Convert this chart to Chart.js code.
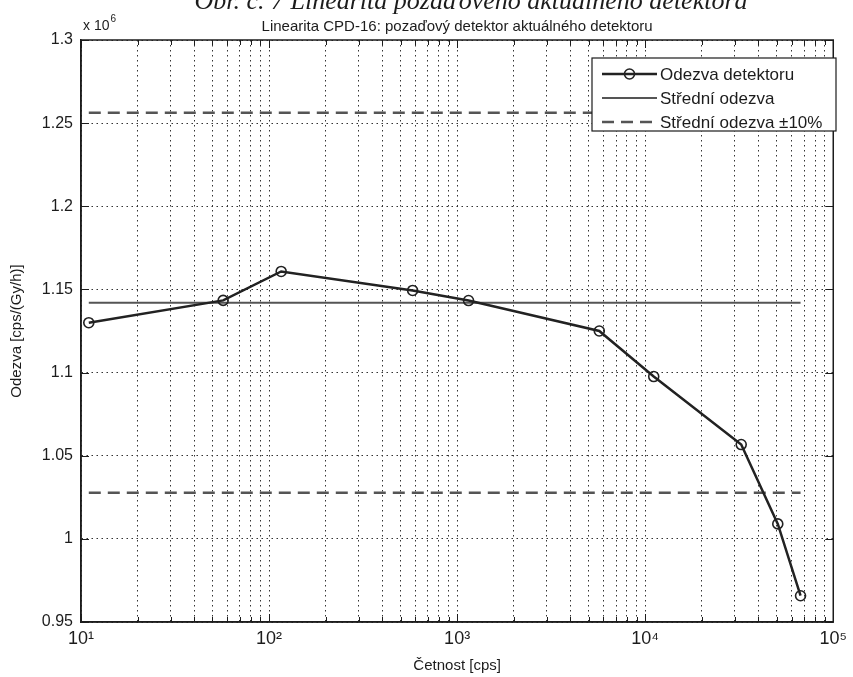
<!DOCTYPE html>
<html>
<head>
<meta charset="utf-8">
<script src="https://cdn.jsdelivr.net/npm/chart.js@4.4.1/dist/chart.umd.min.js"></script>
<style>
html, body { margin: 0; padding: 0; background: #fff; }
#wrap { position: relative; width: 853px; height: 677px; }
</style>
</head>
<body>
<div id="wrap"><canvas id="linearity"></canvas></div>
<script>
// count rate [cps] and detector response [cps/(Gy/h)]
const countRate = [11, 57, 116, 580, 1150, 5700, 11100, 32400, 50700, 67000];
const response = [1.130e6, 1.1434e6, 1.1608e6, 1.1494e6, 1.1433e6, 1.125e6, 1.0976e6, 1.0567e6, 1.009e6, 0.9658e6];
const meanResponse = 1.142e6;
const bandUpper = 1.2562e6;
const bandLower = 1.0278e6;

const legendLabels = ['Odezva detektoru', 'Střední odezva', 'Střední odezva ±10%'];
const xDecades = [10, 100, 1000, 10000, 100000];
const minorSteps = [2, 3, 4, 5, 6, 7, 8, 9];
const superscripts = ['⁰', '¹', '²', '³', '⁴', '⁵', '⁶', '⁷', '⁸', '⁹'];

const FONT = "'Liberation Sans', Arial, sans-serif";
const INK = '#1c1c1c';

const xSpan = [countRate[0], countRate[countRate.length - 1]];
const flatLine = (y) => xSpan.map(x => ({x: x, y: y}));

// log-grid ticks: every decade plus 2..9 in between
function logTicks() {
    const ticks = [];
    xDecades.forEach((d, i) => {
        ticks.push({value: d, major: true});
        if (i < xDecades.length - 1) {
            minorSteps.forEach(m => ticks.push({value: d * m, major: false}));
        }
    });
    return ticks;
}

// box round the axes and inward ticks, like matlab
const frameAndTicks = {
    id: 'frameAndTicks',
    afterDatasetsDraw(chart) {
        const {ctx, chartArea: a, scales} = chart;
        ctx.save();
        ctx.strokeStyle = INK;
        ctx.lineWidth = 1;
        scales.x.ticks.forEach(t => {
            const px = Math.round(scales.x.getPixelForValue(t.value)) + 0.5;
            const len = t.major ? 8 : 5;
            ctx.beginPath();
            ctx.moveTo(px, a.bottom); ctx.lineTo(px, a.bottom - len);
            ctx.moveTo(px, a.top); ctx.lineTo(px, a.top + len);
            ctx.stroke();
        });
        scales.y.ticks.forEach(t => {
            const py = Math.round(scales.y.getPixelForValue(t.value)) + 0.5;
            ctx.beginPath();
            ctx.moveTo(a.left, py); ctx.lineTo(a.left + 8, py);
            ctx.moveTo(a.right, py); ctx.lineTo(a.right - 8, py);
            ctx.stroke();
        });
        ctx.lineWidth = 1.5;
        ctx.strokeRect(a.left, a.top, a.right - a.left, a.bottom - a.top);

        // exponent above the y axis
        ctx.fillStyle = INK;
        ctx.textBaseline = 'alphabetic';
        ctx.font = '14px ' + FONT;
        ctx.fillText('x 10', a.left + 2, a.top - 10);
        const w = ctx.measureText('x 10').width;
        ctx.font = '10px ' + FONT;
        ctx.fillText('6', a.left + 3 + w, a.top - 18);

        // page caption, cut by the top of the scan
        ctx.font = "italic 26px 'Liberation Serif', 'Times New Roman', serif";
        ctx.textAlign = 'center';
        ctx.fillText('Obr. č. 7 Linearita pozaďového aktuálného detektora', 471, 9);
        ctx.restore();
    }
};

// legend box in the upper right corner
const boxLegend = {
    id: 'boxLegend',
    afterDraw(chart, args, opts) {
        const ctx = chart.ctx;
        const items = chart.data.datasets.filter(d => d.inLegend !== false);
        ctx.save();
        ctx.fillStyle = '#fff';
        ctx.fillRect(opts.left, opts.top, opts.width, opts.height);
        ctx.strokeStyle = INK;
        ctx.lineWidth = 1.2;
        ctx.strokeRect(opts.left, opts.top, opts.width, opts.height);
        ctx.font = '17px ' + FONT;
        ctx.textBaseline = 'middle';
        items.forEach((d, i) => {
            const y = opts.top + opts.firstRow + i * opts.rowHeight;
            const x0 = opts.left + 10, x1 = opts.left + 65;
            ctx.strokeStyle = d.borderColor;
            ctx.lineWidth = d.borderWidth;
            ctx.setLineDash(d.borderDash || []);
            ctx.beginPath(); ctx.moveTo(x0, y); ctx.lineTo(x1, y); ctx.stroke();
            ctx.setLineDash([]);
            if (d.pointRadius > 0) {
                ctx.lineWidth = d.pointBorderWidth;
                ctx.strokeStyle = d.pointBorderColor;
                ctx.beginPath(); ctx.arc((x0 + x1) / 2, y, d.pointRadius, 0, Math.PI * 2); ctx.stroke();
            }
            ctx.fillStyle = INK;
            ctx.fillText(d.label, opts.left + 68, y + 1);
        });
        ctx.restore();
    }
};

const ctx = document.getElementById('linearity').getContext('2d');
new Chart(ctx, {
    type: 'line',
    data: {
        datasets: [{
            label: legendLabels[0],
            data: countRate.map((x, i) => ({x: x, y: response[i]})),
            borderColor: '#222',
            borderWidth: 2.5,
            pointRadius: 5,
            pointBorderWidth: 1.6,
            pointBorderColor: '#222',
            pointBackgroundColor: 'rgba(0,0,0,0)',
            tension: 0
        }, {
            label: legendLabels[1],
            data: flatLine(meanResponse),
            borderColor: '#555',
            borderWidth: 2,
            pointRadius: 0
        }, {
            label: legendLabels[2],
            data: flatLine(bandUpper),
            borderColor: '#555',
            borderWidth: 2.5,
            borderDash: [12, 7],
            pointRadius: 0
        }, {
            label: legendLabels[2],
            inLegend: false,
            data: flatLine(bandLower),
            borderColor: '#555',
            borderWidth: 2.5,
            borderDash: [12, 7],
            pointRadius: 0
        }]
    },
    options: {
        responsive: true,
        maintainAspectRatio: false,
        animation: false,
        layout: { padding: { left: 0, right: 13, top: 0, bottom: 0 } },
        plugins: {
            legend: { display: false },
            tooltip: { enabled: false },
            title: {
                display: true,
                fullSize: false,
                text: 'Linearita CPD-16: pozaďový detektor aktuálného detektoru',
                color: INK,
                font: { size: 15, family: FONT, weight: 'normal' },
                padding: { top: 18, bottom: 4 }
            },
            boxLegend: { left: 592, top: 58, width: 244, height: 73, firstRow: 16, rowHeight: 24 }
        },
        scales: {
            x: {
                type: 'logarithmic',
                min: xDecades[0],
                max: xDecades[xDecades.length - 1],
                afterBuildTicks: scale => { scale.ticks = logTicks(); },
                afterFit: scale => { scale.height = 55; },
                ticks: {
                    autoSkip: false,
                    maxRotation: 0,
                    padding: 6,
                    color: INK,
                    font: { size: 18, family: FONT },
                    callback: (v) => {
                        const e = Math.round(Math.log10(v));
                        return xDecades.includes(v) ? '10' + superscripts[e] : '';
                    }
                },
                grid: { color: '#333', lineWidth: 1, drawTicks: false },
                border: { display: true, color: INK, width: 1.5, dash: [1.5, 3.5] },
                title: {
                    display: true,
                    text: 'Četnost [cps]',
                    color: INK,
                    font: { size: 15, family: FONT },
                    padding: { top: 0, bottom: 2 }
                }
            },
            y: {
                min: 0.95e6,
                max: 1.3e6,
                afterFit: scale => { scale.width = 81; },
                ticks: {
                    stepSize: 0.05e6,
                    padding: 8,
                    color: INK,
                    font: { size: 16, family: FONT },
                    callback: (v) => String(Math.round(v / 1e4) / 100)
                },
                grid: { color: '#333', lineWidth: 1, drawTicks: false },
                border: { display: true, color: INK, width: 1.5, dash: [1.5, 3.5] },
                title: {
                    display: true,
                    text: 'Odezva [cps/(Gy/h)]',
                    color: INK,
                    font: { size: 15, family: FONT },
                    padding: { top: 8, bottom: 0 }
                }
            }
        }
    },
    plugins: [frameAndTicks, boxLegend]
});
</script>
</body>
</html>
